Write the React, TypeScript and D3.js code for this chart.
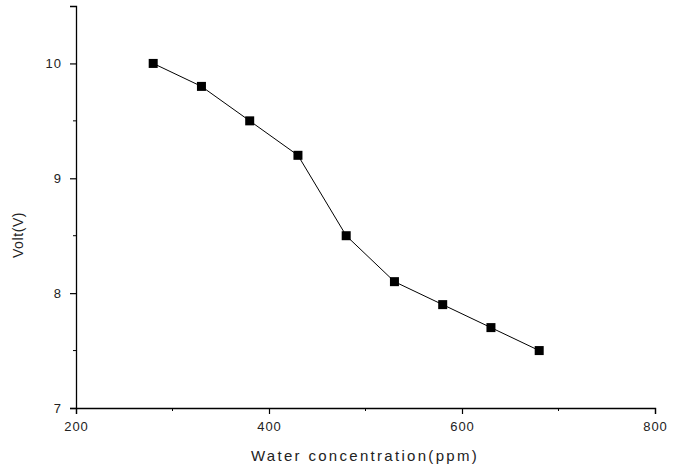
import React, { useEffect, useRef } from "react";
import * as d3 from "d3";

const xValues = [280, 330, 380, 430, 480, 530, 580, 630, 680];
const yValues = [10.0, 9.8, 9.5, 9.2, 8.5, 8.1, 7.9, 7.7, 7.5];
const xTicks = [200, 400, 600, 800];
const xMinorTicks = [300, 500, 700];
const yTicks = [7, 8, 9, 10];
const yMinorTicks = [7.5, 8.5, 9.5];
const xTitle = "Water concentration(ppm)";
const yTitle = "Volt(V)";

export default function App() {
  const ref = useRef<SVGSVGElement>(null);
  useEffect(() => {
    const svg = d3.select(ref.current);
    svg.selectAll("*").remove();
    const W = 682, H = 467;
    const left = 76, right = 655, top = 6, bottom = 408;
    const x = d3.scaleLinear().domain([200, 800]).range([left, right]);
    const y = d3.scaleLinear().domain([7, 10.5]).range([bottom, top]);
    const font = "Arial, 'Liberation Sans', sans-serif";
    svg.append("rect").attr("width", W).attr("height", H).attr("fill", "#fff");

    const xAxis = svg.append("g").attr("transform", `translate(0,${bottom})`)
      .call(d3.axisBottom(x).tickValues(xTicks).tickSize(6).tickPadding(8).tickFormat(d3.format("d")));
    xAxis.append("g").selectAll("line").data(xMinorTicks).join("line")
      .attr("x1", d => x(d)).attr("x2", d => x(d)).attr("y1", 0).attr("y2", 3).attr("stroke", "#000");
    const yAxis = svg.append("g").attr("transform", `translate(${left},0)`)
      .call(d3.axisLeft(y).tickValues(yTicks).tickSize(6).tickPadding(8).tickFormat(d3.format("d")));
    yAxis.append("g").selectAll("line").data(yMinorTicks).join("line")
      .attr("y1", d => y(d)).attr("y2", d => y(d)).attr("x1", 0).attr("x2", -3).attr("stroke", "#000");
    for (const g of [xAxis, yAxis]) {
      g.select(".domain").attr("stroke", "#000").attr("stroke-width", 1.3);
      g.selectAll(".tick line").attr("stroke", "#000").attr("stroke-width", 1.2);
      g.selectAll("text").attr("font-family", font).attr("font-size", 13)
        .attr("letter-spacing", 1).attr("fill", "#222");
    }

    const line = d3.line<number>().x((_, i) => x(xValues[i])).y(d => y(d));
    svg.append("path").datum(yValues).attr("d", line).attr("fill", "none")
      .attr("stroke", "#000").attr("stroke-width", 1);
    const s = 9;
    svg.append("g").selectAll("rect").data(yValues).join("rect")
      .attr("x", (_, i) => x(xValues[i]) - s / 2).attr("y", d => y(d) - s / 2)
      .attr("width", s).attr("height", s).attr("fill", "#000");

    svg.append("text").attr("x", 365).attr("y", 461).attr("text-anchor", "middle")
      .attr("font-family", font).attr("font-size", 15).attr("letter-spacing", 2.3).attr("fill", "#222")
      .text(xTitle);
    svg.append("text").attr("transform", `translate(23,${235}) rotate(-90)`).attr("text-anchor", "middle")
      .attr("font-family", font).attr("font-size", 14).attr("letter-spacing", 0.6).attr("fill", "#222").text(yTitle);
  }, []);
  return (
    <svg ref={ref} width={682} height={467}
      style={{ position: "absolute", left: 0, top: 0, display: "block" }} />
  );
}
